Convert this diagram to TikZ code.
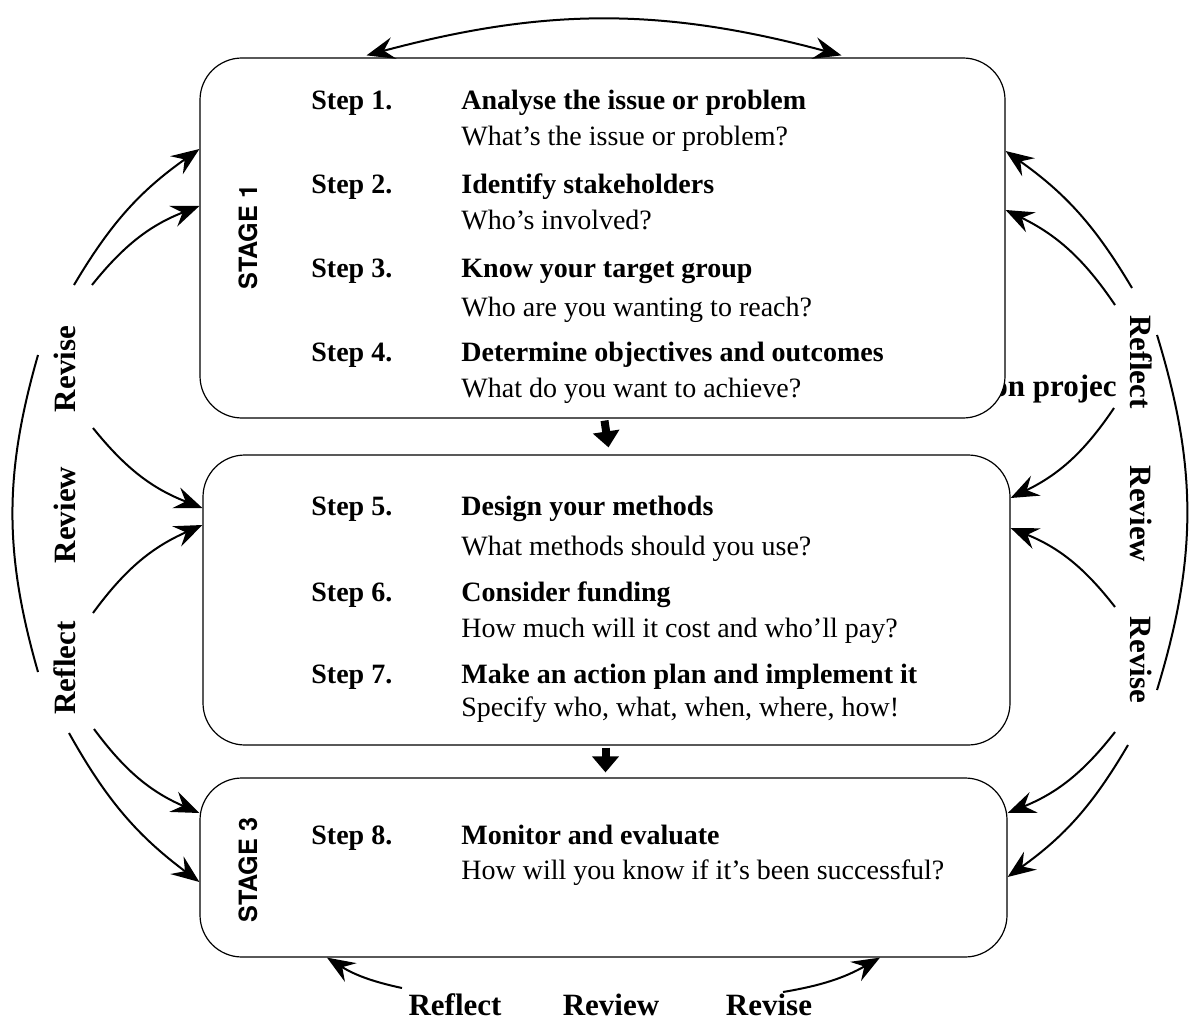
\documentclass[tikz,border=0pt]{standalone}
\usepackage{fontspec}
\setmainfont{Liberation Serif}
\setsansfont{TeX Gyre Heros}
\usepackage{tikz}
\usetikzlibrary{arrows.meta}
\tikzset{
		stageBox/.style = {draw, line width=0.6pt, rounded corners=21pt, fill=white, inner sep=0pt},
		stageTag/.style = {rotate=90, font=\fontsize{12.6}{14}\selectfont\sffamily\bfseries},
		stepNum/.style = {anchor=base west, inner sep=0pt, font=\fontsize{14}{16}\selectfont\bfseries},
		stepTitle/.style = {anchor=base west, inner sep=0pt, font=\fontsize{14}{16}\selectfont\bfseries},
		stepQuest/.style = {anchor=base west, inner sep=0pt, font=\fontsize{14}{16}\selectfont},
		phaseLabel/.style = {anchor=base, inner sep=0pt, font=\fontsize{15.5}{17}\selectfont\bfseries},
		loopArrow/.style = {line width=1pt, >={Stealth[length=14pt,width=11pt,inset=5pt]}},
		loopLine/.style = {line width=1pt},
		flowArrow/.style = {line width=4pt, -{Triangle[length=8pt,width=13pt]}}
}

\begin{document}
\begin{tikzpicture}[x=0.5pt, y=-0.5pt]
  \useasboundingbox (0,0) rectangle (1192,1021);

  % text partly covered by the first stage
  \node[phaseLabel, anchor=base east] (cover) at (1117,396) {on projec};

  % the three stages
  \node[stageBox, minimum width=402.5pt, minimum height=180pt] (s1) at (602.5,238) {};
  \node[stageBox, minimum width=403.5pt, minimum height=145pt] (s2) at (606.5,600) {};
  \node[stageBox, minimum width=403.5pt, minimum height=89.5pt] (s3) at (603.5,867.5) {};
  \node[stageTag] (tag1) at (248,237) {STAGE 1};
  \node[stageTag] (tag3) at (248,870) {STAGE 3};

  % steps
  \foreach \n/\yt/\yq/\title/\quest in {
      1/110/146/{Analyse the issue or problem}/{What's the issue or problem?},
      2/194/230/{Identify stakeholders}/{Who's involved?},
      3/278/316/{Know your target group}/{Who are you wanting to reach?},
      4/361/397/{Determine objectives and outcomes}/{What do you want to achieve?},
      5/515/555/{Design your methods}/{What methods should you use?},
      6/601/637/{Consider funding}/{How much will it cost and who'll pay?},
      7/683/716/{Make an action plan and implement it}/{Specify who, what, when, where, how!},
      8/844/879/{Monitor and evaluate}/{How will you know if it's been successful?}}
    {\node[stepNum] (n\n) at (311,\yt) {Step \n.};
     \node[stepTitle] (t\n) at (461,\yt) {\title};
     \node[stepQuest] (q\n) at (461,\yq) {\quest};}

  \draw[flowArrow] ([xshift=1pt,yshift=-1pt]s1.south) -- ([xshift=1pt,yshift=3.5pt]s2.north);
  \draw[flowArrow] ([xshift=-0.5pt,yshift=-1pt]s2.south) -- ([xshift=1pt,yshift=2.5pt]s3.north);

  % reflect, review, revise
  \node[phaseLabel, rotate=90] (lRevise) at (75,369) {Revise};
  \node[phaseLabel, rotate=90] (lReview) at (75,515) {Review};
  \node[phaseLabel, rotate=90] (lReflect) at (75,668) {Reflect};
  \node[phaseLabel, rotate=-90] (rReflect) at (1130,362) {Reflect};
  \node[phaseLabel, rotate=-90] (rReview) at (1130,514) {Review};
  \node[phaseLabel, rotate=-90] (rRevise) at (1130,660) {Revise};
  \node[phaseLabel] (bReflect) at (455,1015) {Reflect};
  \node[phaseLabel] (bReview) at (611,1015) {Review};
  \node[phaseLabel] (bRevise) at (769,1015) {Revise};

  \coordinate (lt1) at (74,285);   \coordinate (lt2) at (92,285);
  \coordinate (lm1) at (93,428);   \coordinate (lm2) at (93,613);
  \coordinate (lb1) at (94,729);   \coordinate (lb2) at (69,733);
  \coordinate (rt1) at (1132,288); \coordinate (rt2) at (1115,305);
  \coordinate (rm1) at (1114,408); \coordinate (rm2) at (1115,607);
  \coordinate (rb1) at (1115,732); \coordinate (rb2) at (1128,745);
  \coordinate (bl) at (402,988);   \coordinate (br) at (783,992);
  \coordinate (la1) at (38,355);   \coordinate (la2) at (38,672);
  \coordinate (ra1) at (1157,335); \coordinate (ra2) at (1157,690);

  \draw[loopArrow, <->] ([xshift=-118pt,yshift=1pt]s1.north) to[bend left=15] ([xshift=119.5pt,yshift=1pt]s1.north);
  \draw[loopLine] (la1) to[bend right=16] (la2);
  \draw[loopLine] (ra1) to[bend left=17] (ra2);

  \draw[loopArrow, ->] (lt1) to[bend left=12] ([yshift=44.5pt]s1.west);
  \draw[loopArrow, ->] (lt2) to[bend left=15] ([yshift=16pt]s1.west);
  \draw[loopArrow, ->] (lm1) to[bend right=15] ([yshift=46pt]s2.west);
  \draw[loopArrow, ->] (lm2) to[bend left=15] ([yshift=37.5pt]s2.west);
  \draw[loopArrow, ->] (lb1) to[bend right=15] ([yshift=27.25pt]s3.west);
  \draw[loopArrow, ->] (lb2) to[bend right=12] ([yshift=-7.25pt]s3.west);

  \draw[loopArrow, ->] (rt1) to[bend right=12] ([yshift=43.5pt]s1.east);
  \draw[loopArrow, ->] (rt2) to[bend right=15] ([yshift=14pt]s1.east);
  \draw[loopArrow, ->] (rm1) to[bend left=15] ([yshift=51pt]s2.east);
  \draw[loopArrow, ->] (rm2) to[bend right=15] ([yshift=36pt]s2.east);
  \draw[loopArrow, ->] (rb1) to[bend left=15] ([yshift=27.25pt]s3.east);
  \draw[loopArrow, ->] (rb2) to[bend left=12] ([yshift=-4.75pt]s3.east);

  \draw[loopArrow, ->] (bl) to[bend left=10] ([xshift=-138.25pt]s3.south);
  \draw[loopArrow, ->] (br) to[bend right=10] ([xshift=138.25pt]s3.south);
\end{tikzpicture}
\end{document}
